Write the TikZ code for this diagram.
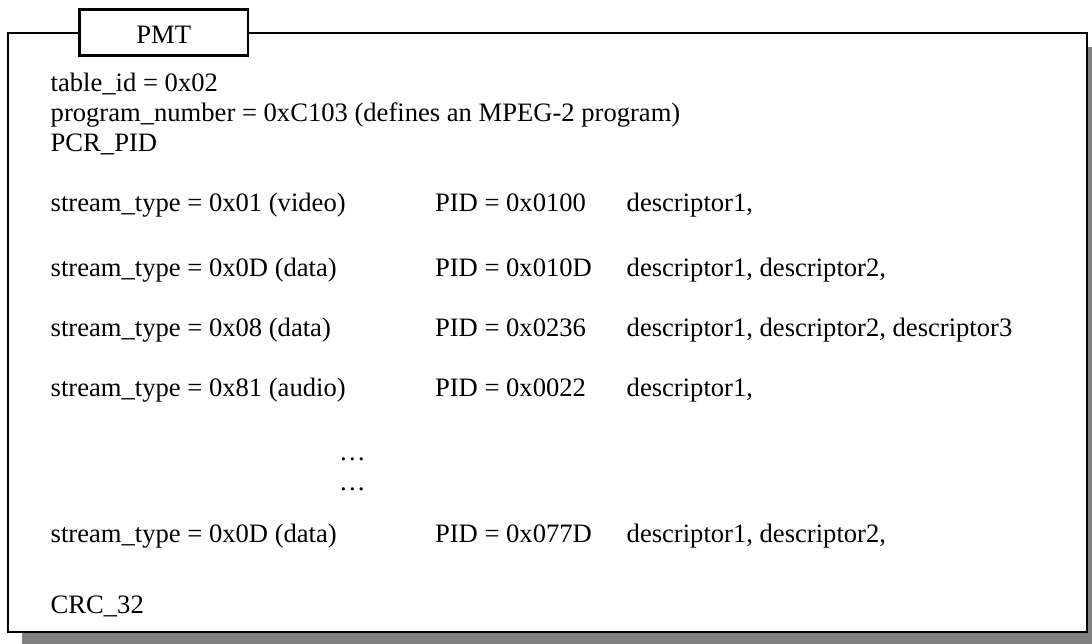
\documentclass[tikz,border=0pt]{standalone}
\usepackage{fontspec}
\setmainfont{Liberation Serif}
\definecolor{shadowgray}{RGB}{128,128,128}
\begin{document}
\begin{tikzpicture}[x=1pt,y=-1pt,
  lbl/.style={anchor=base west, inner sep=0pt, outer sep=0pt, font=\fontsize{26.6}{30}\selectfont},
  frame/.style={draw, line width=2.3pt, fill=white, inner sep=0pt, outer sep=0pt}]
\useasboundingbox (0,0) rectangle (1092,643);
% shadow
\fill[shadowgray] (22.3,47) rectangle (1101,646);
% main frame
\node[frame, anchor=north west, minimum width=1078.7pt, minimum height=599pt] (main) at (8.3,33) {};
% title box
\node[frame, minimum width=168.5pt, minimum height=46pt, text height=21.6pt, text depth=0pt,
      font=\fontsize{26.6}{30}\selectfont] (title) at (163.75,32.5) {PMT};
% header lines
\node[lbl] (tid) at (50.7,91.7) {table\_id = 0x02};
\node[lbl] (pnum) at (50.7,121.7) {program\_number = 0xC103 (defines an MPEG-2 program)};
\node[lbl] (pcr) at (50.7,151.7) {PCR\_PID};
% streams
\node[lbl] (s1) at (50.7,211.7) {stream\_type = 0x01 (video)};
\node[lbl] (p1) at (435,211.7) {PID = 0x0100};
\node[lbl] (d1) at (626.7,211.7) {descriptor1,};
\node[lbl] (s2) at (50.7,276.7) {stream\_type = 0x0D (data)};
\node[lbl] (p2) at (435,276.7) {PID = 0x010D};
\node[lbl] (d2) at (626.7,276.7) {descriptor1, descriptor2,};
\node[lbl] (s3) at (50.7,336.7) {stream\_type = 0x08 (data)};
\node[lbl] (p3) at (435,336.7) {PID = 0x0236};
\node[lbl] (d3) at (626.7,336.7) {descriptor1, descriptor2, descriptor3};
\node[lbl] (s4) at (50.7,396.7) {stream\_type = 0x81 (audio)};
\node[lbl] (p4) at (435,396.7) {PID = 0x0022};
\node[lbl] (d4) at (626.7,396.7) {descriptor1,};
\node[lbl] (e1) at (339,460) {…};
\node[lbl] (e2) at (339,490) {…};
\node[lbl] (s5) at (50.7,542) {stream\_type = 0x0D (data)};
\node[lbl] (p5) at (435,542) {PID = 0x077D};
\node[lbl] (d5) at (626.7,542) {descriptor1, descriptor2,};
\node[lbl] (crc) at (50.7,613) {CRC\_32};
\end{tikzpicture}
\end{document}
